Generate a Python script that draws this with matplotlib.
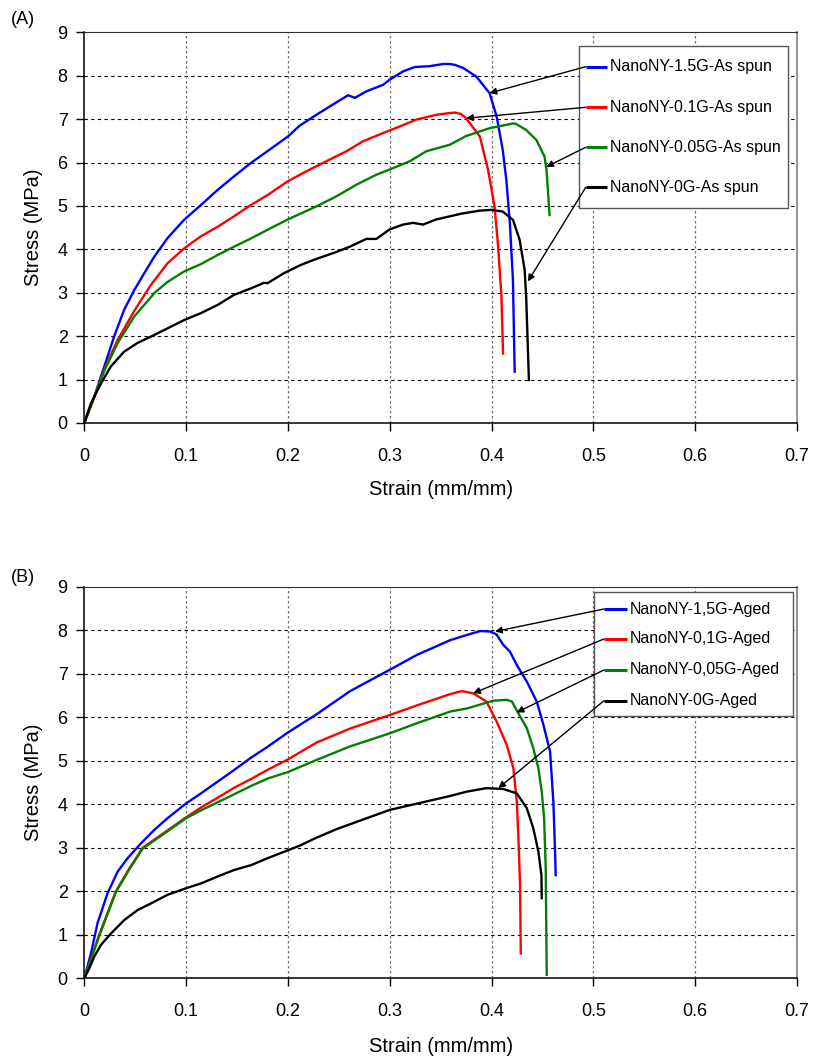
import matplotlib
matplotlib.use("Agg")
import matplotlib.pyplot as plt
from matplotlib.patches import Rectangle

plt.rcParams['font.family'] = ['Liberation Sans', 'DejaVu Sans']

# ---------------- (A) As spun ----------------
a_blue_x = [0, 0.0098, 0.0196, 0.0294, 0.039, 0.049, 0.0589, 0.0687, 0.0818, 0.098, 0.1145, 0.131,
            0.147, 0.1636, 0.1822, 0.2, 0.2116, 0.228, 0.2444, 0.2591, 0.2657, 0.2771, 0.2935, 0.3,
            0.3131, 0.3246, 0.3393, 0.3524, 0.359, 0.364, 0.372, 0.385, 0.398, 0.405, 0.411, 0.4145,
            0.418, 0.421, 0.4227]
a_blue_y = [0, 0.61, 1.30, 2.0, 2.6, 3.06, 3.45, 3.83, 4.26, 4.68, 5.02, 5.37,
            5.68, 5.99, 6.3, 6.6, 6.85, 7.1, 7.34, 7.55, 7.49, 7.64, 7.79, 7.91,
            8.1, 8.2, 8.22, 8.27, 8.27, 8.25, 8.18, 7.98, 7.6, 7.06, 6.29, 5.6,
            4.6, 3.3, 1.18]

a_red_x = [0, 0.0098, 0.0196, 0.0327, 0.049, 0.0654, 0.0818, 0.098, 0.1145, 0.131, 0.147, 0.1636,
           0.18, 0.2, 0.2215, 0.2378, 0.2575, 0.2738, 0.2935, 0.3066, 0.3262, 0.3458, 0.359, 0.364,
           0.37, 0.375, 0.3885, 0.3966, 0.403, 0.4065, 0.4097, 0.4113]
a_red_y = [0, 0.6, 1.23, 1.91, 2.58, 3.18, 3.68, 4.02, 4.3, 4.52, 4.76, 5.02,
           5.25, 5.57, 5.84, 6.03, 6.26, 6.49, 6.68, 6.8, 6.99, 7.1, 7.14, 7.15,
           7.12, 7.02, 6.6, 5.83, 4.98, 4.06, 2.91, 1.6]

a_green_x = [0, 0.0098, 0.0196, 0.0327, 0.049, 0.0687, 0.0818, 0.098, 0.1145, 0.131, 0.147, 0.1636,
             0.18, 0.2, 0.228, 0.2476, 0.2673, 0.2869, 0.3, 0.3197, 0.336, 0.359, 0.375, 0.398,
             0.415, 0.421, 0.424, 0.434, 0.444, 0.452, 0.454, 0.457]
a_green_y = [0, 0.6, 1.2, 1.84, 2.45, 2.99, 3.25, 3.49, 3.66, 3.87, 4.06, 4.25,
             4.45, 4.69, 4.99, 5.22, 5.49, 5.72, 5.84, 6.03, 6.26, 6.41, 6.61, 6.79,
             6.87, 6.9, 6.89, 6.75, 6.52, 6.14, 5.83, 4.79]

a_black_x = [0, 0.0065, 0.0164, 0.026, 0.039, 0.052, 0.0654, 0.0818, 0.098, 0.1145, 0.131, 0.147,
             0.1636, 0.1766, 0.18, 0.196, 0.2126, 0.2257, 0.2476, 0.2607, 0.277, 0.2869, 0.3,
             0.3131, 0.3229, 0.3327, 0.3458, 0.359, 0.37, 0.388, 0.40, 0.411, 0.421, 0.4276,
             0.4325, 0.434, 0.4367]
a_black_y = [0, 0.45, 0.91, 1.3, 1.64, 1.84, 1.99, 2.18, 2.37, 2.53, 2.72, 2.95,
             3.1, 3.23, 3.22, 3.45, 3.64, 3.76, 3.94, 4.06, 4.24, 4.24, 4.46,
             4.57, 4.61, 4.57, 4.69, 4.76, 4.82, 4.89, 4.91, 4.87, 4.68, 4.22,
             3.53, 2.91, 0.99]

# ---------------- (B) Aged ----------------
b_blue_x = [0, 0.0065, 0.013, 0.0229, 0.0327, 0.0425, 0.0556, 0.0687, 0.0818, 0.1, 0.1146, 0.131,
            0.1473, 0.1637, 0.18, 0.2, 0.2128, 0.2283, 0.2611, 0.3, 0.3265, 0.3593, 0.3756,
            0.3887, 0.3985, 0.405, 0.4116, 0.418, 0.4248, 0.4346, 0.4444, 0.451, 0.4575, 0.4607,
            0.4624, 0.463]
b_blue_y = [0, 0.57, 1.27, 1.96, 2.45, 2.76, 3.1, 3.41, 3.68, 4.02, 4.25, 4.52,
            4.79, 5.07, 5.32, 5.65, 5.84, 6.07, 6.6, 7.09, 7.43, 7.77, 7.89,
            7.98, 7.97, 7.9, 7.66, 7.51, 7.2, 6.82, 6.36, 5.82, 5.21, 4.06,
            2.91, 2.37]

b_red_x = [0, 0.0065, 0.0147, 0.031, 0.0436, 0.0573, 0.0818, 0.1, 0.111, 0.12, 0.131, 0.1473,
           0.1637, 0.18, 0.2, 0.2283, 0.2611, 0.3, 0.3265, 0.3593, 0.3707, 0.382, 0.395, 0.405,
           0.415, 0.4214, 0.4248, 0.4263, 0.428, 0.4287]
b_red_y = [0, 0.45, 1.0, 2.0, 2.5, 3.0, 3.4, 3.7, 3.87, 4.0, 4.15, 4.38,
           4.58, 4.79, 5.03, 5.42, 5.74, 6.05, 6.27, 6.53, 6.6, 6.55, 6.36, 5.9,
           5.36, 4.83, 4.06, 3.29, 2.14, 0.57]

b_green_x = [0, 0.0065, 0.0147, 0.031, 0.0436, 0.0573, 0.0818, 0.1, 0.1146, 0.127, 0.1473, 0.1637,
             0.18, 0.2, 0.2283, 0.2611, 0.3, 0.3265, 0.3593, 0.3756, 0.4018, 0.415, 0.42, 0.4263,
             0.4346, 0.441, 0.446, 0.4493, 0.4516, 0.4532, 0.4542]
b_green_y = [0, 0.42, 0.98, 1.98, 2.48, 2.98, 3.38, 3.68, 3.86, 4.0, 4.23, 4.42,
             4.59, 4.74, 5.02, 5.33, 5.63, 5.86, 6.13, 6.2, 6.38, 6.4, 6.36, 6.09,
             5.75, 5.29, 4.83, 4.29, 3.68, 2.53, 0.08]

b_black_x = [0, 0.0049, 0.0098, 0.0164, 0.0262, 0.0393, 0.0524, 0.0655, 0.0818, 0.1, 0.1146, 0.131,
             0.1473, 0.1637, 0.18, 0.1964, 0.2128, 0.226, 0.2479, 0.3, 0.3593, 0.3756, 0.395,
             0.4116, 0.4248, 0.4346, 0.441, 0.446, 0.449, 0.4493]
b_black_y = [0, 0.23, 0.5, 0.77, 1.03, 1.34, 1.57, 1.72, 1.92, 2.07, 2.18, 2.34,
             2.49, 2.6, 2.76, 2.91, 3.06, 3.21, 3.43, 3.87, 4.19, 4.29, 4.37,
             4.35, 4.25, 3.91, 3.45, 2.91, 2.37, 1.84]

labels_a = ["NanoNY-1.5G-As spun", "NanoNY-0.1G-As spun", "NanoNY-0.05G-As spun", "NanoNY-0G-As spun"]
labels_b = ["NanoNY-1,5G-Aged", "NanoNY-0,1G-Aged", "NanoNY-0,05G-Aged", "NanoNY-0G-Aged"]
colors = ["#0000FF", "#FF0000", "#008000", "#000000"]

# arrow tips (strain, stress) on each curve
tips_a = [(0.398, 7.6), (0.375, 7.02), (0.4538, 5.9), (0.4357, 3.26)]
tips_b = [(0.4034, 7.97), (0.382, 6.55), (0.4247, 6.11), (0.4067, 4.37)]

x_ticks = [0, 0.1, 0.2, 0.3, 0.4, 0.5, 0.6, 0.7]
x_tick_labels = ["0", "0.1", "0.2", "0.3", "0.4", "0.5", "0.6", "0.7"]
y_ticks = list(range(10))

fig = plt.figure(figsize=(8.13, 10.59), dpi=100)
ax_a = fig.add_axes([0.1037, 0.6006, 0.8766, 0.3689])
ax_b = fig.add_axes([0.1037, 0.0762, 0.8766, 0.3698])


def style_axes(ax):
    ax.set_xlim(0, 0.7)
    ax.set_ylim(0, 9)
    ax.set_xticks(x_ticks)
    ax.set_xticklabels(x_tick_labels)
    ax.set_yticks(y_ticks)
    ax.tick_params(axis='both', direction='out', length=6, width=1, labelsize=13, color='black')
    ax.tick_params(axis='y', pad=6)
    ax.tick_params(axis='x', pad=12)
    for v in y_ticks[1:-1]:
        ax.axhline(v, color='black', lw=0.8, ls=(0, (3, 3)), zorder=1)
    for v in x_ticks[1:-1]:
        ax.axvline(v, color='#707070', lw=0.9, ls=(0, (2, 2)), zorder=1)
    ax.spines['left'].set_color('black')
    ax.spines['bottom'].set_color('black')
    ax.spines['left'].set_linewidth(1.1)
    ax.spines['bottom'].set_linewidth(1.1)
    ax.spines['top'].set_color('#333333')
    ax.spines['right'].set_color('#888888')
    ax.spines['right'].set_linewidth(1.3)
    ax.set_xlabel("Strain (mm/mm)", fontsize=14.5)
    ax.set_ylabel("Stress (MPa)", fontsize=14.5)
    ax.xaxis.label.set_va('center')
    ax.yaxis.label.set_va('center')


def draw_legend(ax, labels, box, rows, line_x0, line_x1, text_x, fontsize):
    left, bottom, right, top = box
    ax.add_patch(Rectangle((left, bottom), right - left, top - bottom, transform=ax.transAxes,
                           facecolor='white', edgecolor='#555555', lw=1.0, zorder=5))
    for lab, col, ry in zip(labels, colors, rows):
        ax.plot([line_x0, line_x1], [ry, ry], color=col, lw=2.2, transform=ax.transAxes,
                zorder=6, solid_capstyle='butt')
        ax.text(text_x, ry, lab, transform=ax.transAxes, fontsize=fontsize, va='center',
                ha='left', zorder=6)


def draw_arrows(ax, tips, rows, start_x):
    for (tx, ty), ry in zip(tips, rows):
        ax.annotate('', xy=(tx, ty), xycoords='data', xytext=(start_x, ry),
                    textcoords='axes fraction',
                    arrowprops=dict(arrowstyle='-|>', color='black', lw=1.0,
                                    mutation_scale=10, shrinkA=0, shrinkB=0),
                    zorder=7)


def draw_curves(ax, xs_list, ys_list):
    for xs, ys, col in zip(xs_list, ys_list, colors):
        ax.plot(xs, ys, color=col, lw=1.7, zorder=3, solid_joinstyle='round')


# panel A
style_axes(ax_a)
draw_curves(ax_a, [a_blue_x, a_red_x, a_green_x, a_black_x],
            [a_blue_y, a_red_y, a_green_y, a_black_y])
ax_a.xaxis.set_label_coords(0.5, -0.171)
ax_a.yaxis.set_label_coords(-0.0706, 0.5)
rows_a = [0.912, 0.808, 0.7057, 0.6033]
draw_legend(ax_a, labels_a, (0.6946, 0.5495, 0.9878, 0.9657), rows_a, 0.7036, 0.733, 0.7376, 11.5)
draw_arrows(ax_a, tips_a, rows_a, 0.7036)

# panel B
style_axes(ax_b)
draw_curves(ax_b, [b_blue_x, b_red_x, b_green_x, b_black_x],
            [b_blue_y, b_red_y, b_green_y, b_black_y])
ax_b.xaxis.set_label_coords(0.5, -0.175)
ax_b.yaxis.set_label_coords(-0.0706, 0.5)
rows_b = [0.943, 0.8665, 0.7873, 0.7089]
draw_legend(ax_b, labels_b, (0.7156, 0.6706, 0.9940, 0.9857), rows_b, 0.7292, 0.761, 0.7657, 11.5)
draw_arrows(ax_b, tips_b, rows_b, 0.7292)

fig.text(11 / 813, 1 - 19 / 1059, "(A)", fontsize=13, va='center', ha='left')
fig.text(11 / 813, 1 - 577 / 1059, "(B)", fontsize=13, va='center', ha='left')

fig.savefig("out.png", dpi=100)
